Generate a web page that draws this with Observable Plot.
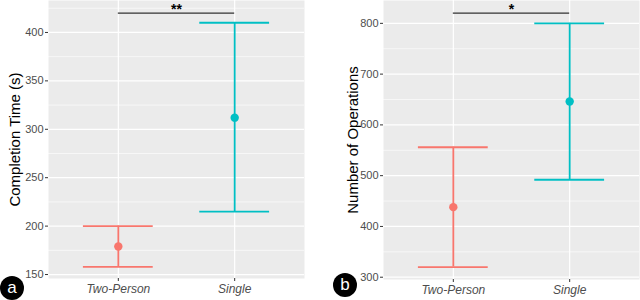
<!DOCTYPE html>
<html>
<head>
<meta charset="utf-8">
<script src="https://cdn.jsdelivr.net/npm/d3@7"></script>
<script src="https://cdn.jsdelivr.net/npm/@observablehq/plot@0.6"></script>
<style>
  body { margin: 0; background: #fff; font-family: "Liberation Sans", Arial, Helvetica, sans-serif; }
  #wrap { position: relative; width: 640px; height: 300px; overflow: hidden; }
  .panel { position: absolute; top: 0; }
  .badge { position: absolute; width: 24px; height: 24px; border-radius: 50%; background: #000; color: #fff;
           font: 17px "Liberation Sans", Arial, sans-serif; text-align: center; line-height: 23px; }
</style>
</head>
<body>
<div id="wrap">
  <div id="pa" class="panel" style="left:0"></div>
  <div id="pb" class="panel" style="left:320px"></div>
  <div class="badge" style="left:0px; top:276px;">a</div>
  <div class="badge" style="left:333px; top:273px;">b</div>
</div>
<script>
const categories = ["Two-Person", "Single"];
const colors = ["#F8766D", "#00BFC4"];

// Panel a: Completion Time (s)
const timeMean = [179, 312];
const timeLow = [158, 215];
const timeHigh = [200, 410];
const timeTicks = [150, 200, 250, 300, 350, 400];
const timeMinor = [175, 225, 275, 325, 375, 425];
const timeSig = {label: "**", y: 420};

// Panel b: Number of Operations
const opsMean = [438, 646];
const opsLow = [320, 492];
const opsHigh = [556, 800];
const opsTicks = [300, 400, 500, 600, 700, 800];
const opsMinor = [350, 450, 550, 650, 750];
const opsSig = {label: "*", y: 820};

function makePanel({mean, low, high, ticks, minor, sig, title, yDomain, marginLeft, marginRight, marginBottom, titleDx}) {
  const rows = categories.map((c, i) => ({cat: c, i: i + 1, mean: mean[i], low: low[i], high: high[i]}));
  return Plot.plot({
    width: 320,
    height: 300,
    marginTop: 0,
    marginLeft,
    marginRight,
    marginBottom,
    style: {fontFamily: '"Liberation Sans", Arial, Helvetica, sans-serif', background: "transparent"},
    x: {type: "linear", domain: [0.4, 2.6]},
    y: {domain: yDomain},
    color: {domain: categories, range: colors},
    marks: [
      Plot.frame({fill: "#EBEBEB", stroke: "none"}),
      Plot.ruleY(minor, {stroke: "white", strokeWidth: 0.6}),
      Plot.ruleY(ticks, {stroke: "white", strokeWidth: 1.2}),
      Plot.ruleX(rows, {x: "i", stroke: "white", strokeWidth: 1.2}),
      Plot.axisY({ticks, tickSize: 3, tickPadding: 2, fontSize: 11, color: "#4D4D4D", stroke: "#333", label: null}),
      Plot.axisX({ticks: rows.map(d => d.i), tickFormat: i => categories[i - 1], tickSize: 3, tickPadding: 3,
                  fontSize: 12, fontStyle: "italic", color: "#4D4D4D", stroke: "#333", label: null}),
      Plot.text([title], {frameAnchor: "left", rotate: -90, dx: titleDx, fontSize: 15, fill: "black", textAnchor: "middle"}),
      Plot.ruleX(rows, {x: "i", y1: "low", y2: "high", stroke: "cat", strokeWidth: 1.8}),
      Plot.ruleY(rows, {x1: d => d.i - 0.3, x2: d => d.i + 0.3, y: "high", stroke: "cat", strokeWidth: 1.8}),
      Plot.ruleY(rows, {x1: d => d.i - 0.3, x2: d => d.i + 0.3, y: "low", stroke: "cat", strokeWidth: 1.8}),
      Plot.dot(rows, {x: "i", y: "mean", fill: "cat", r: 4.2}),
      Plot.ruleY([sig], {x1: 1, x2: 2, y: "y", stroke: "#333", strokeWidth: 1.2}),
      Plot.text([sig], {x: 1.5, y: "y", text: "label", dy: -3.5, fontSize: 14, fontWeight: "bold", fill: "black"})
    ]
  });
}

document.getElementById("pa").append(makePanel({
  mean: timeMean, low: timeLow, high: timeHigh, ticks: timeTicks, minor: timeMinor, sig: timeSig,
  title: "Completion Time (s)", yDomain: [145.9, 433], marginLeft: 48, marginRight: 16, marginBottom: 22, titleDx: -33
}));
document.getElementById("pb").append(makePanel({
  mean: opsMean, low: opsLow, high: opsHigh, ticks: opsTicks, minor: opsMinor, sig: opsSig,
  title: "Number of Operations", yDomain: [295.5, 845], marginLeft: 63, marginRight: 1, marginBottom: 21, titleDx: -30
}));
</script>
</body>
</html>
